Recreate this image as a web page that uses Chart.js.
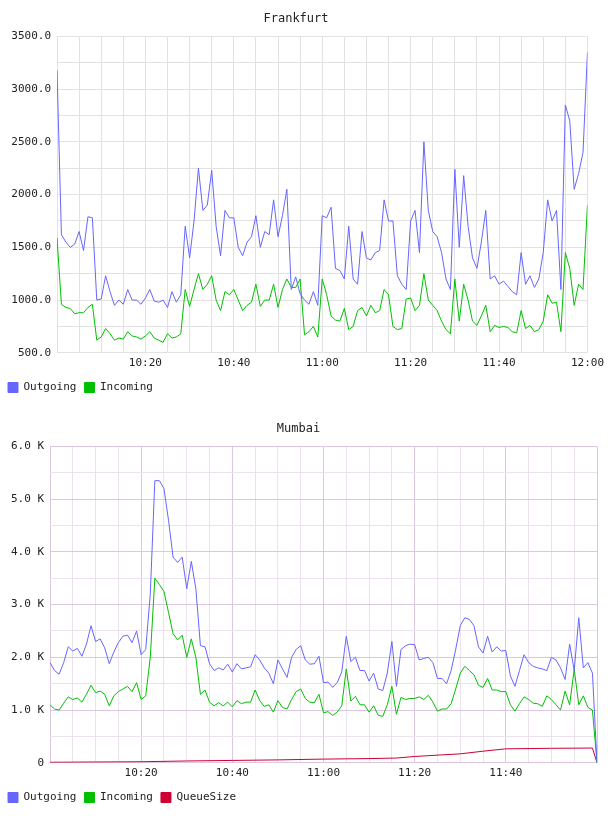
<!DOCTYPE html>
<html>
<head>
<meta charset="utf-8">
<script src="https://cdn.jsdelivr.net/npm/chart.js@4"></script>
<style>
  body { margin: 0; background: #fff; }
  .box { width: 608px; height: 405px; }
</style>
</head>
<body>
<div class="box"><canvas id="fra" width="608" height="405"></canvas></div>
<div class="box" style="margin-top:5px"><canvas id="bom" width="608" height="405"></canvas></div>
<script>
// minutes after 10:00, one sample per minute
const fraOutgoing = [3180,1620,1550,1500,1530,1650,1470,1790,1780,1000,1010,1230,1080,950,1000,960,1100,1000,1000,960,
  1020,1100,990,980,1000,930,1080,980,1050,1700,1400,1750,2250,1850,1900,2230,1700,1420,1850,1780,
  1780,1500,1420,1550,1600,1800,1500,1650,1620,1950,1600,1800,2050,1100,1220,1060,1000,960,1080,950,
  1800,1780,1880,1300,1280,1200,1700,1200,1150,1650,1400,1380,1450,1470,1950,1750,1750,1230,1150,1100,
  1750,1850,1450,2500,1850,1650,1600,1450,1200,1100,2240,1500,2180,1700,1400,1300,1550,1850,1200,1230,
  1150,1180,1130,1080,1050,1450,1150,1230,1120,1200,1450,1950,1750,1850,1100,2850,2700,2050,2200,2400,3350];
const fraIncoming = [1590,960,930,920,870,880,880,930,960,620,650,730,680,620,640,630,700,660,650,630,
  660,700,640,620,600,680,640,650,680,1100,940,1100,1250,1100,1150,1230,1000,900,1080,1050,
  1100,1000,900,950,980,1150,940,1000,1000,1150,930,1100,1200,1120,1120,1200,670,700,750,650,
  1200,1050,850,810,800,920,720,750,900,930,850,950,880,900,1100,1050,750,720,730,1010,
  1020,900,950,1250,1000,950,900,800,720,680,1200,800,1150,1000,800,760,850,950,700,760,
  740,750,740,700,690,900,730,760,700,720,800,1050,970,980,700,1450,1300,950,1150,1100,1900];

const bomOutgoing = [1.9,1.75,1.68,1.9,2.2,2.12,2.17,2.02,2.25,2.6,2.3,2.35,2.18,1.88,2.1,2.28,2.4,2.42,2.28,2.5,
  2.05,2.15,3.2,5.35,5.35,5.2,4.6,3.9,3.8,3.9,3.3,3.82,3.3,2.22,2.2,1.88,1.75,1.8,1.76,1.87,
  1.72,1.88,1.78,1.8,1.82,2.05,1.95,1.8,1.7,1.5,1.95,1.78,1.62,2.0,2.15,2.22,1.95,1.87,1.88,2.02,
  1.52,1.53,1.43,1.52,1.72,2.4,1.92,2.0,1.75,1.75,1.55,1.7,1.4,1.37,1.7,2.3,1.45,2.15,2.22,2.25,
  2.24,1.95,1.98,2.0,1.9,1.6,1.6,1.5,1.75,2.15,2.6,2.75,2.72,2.6,2.2,2.08,2.4,2.1,2.2,2.12,
  2.13,1.65,1.45,1.75,2.05,1.9,1.83,1.8,1.78,1.75,2.0,1.95,1.8,1.58,2.25,1.75,2.75,1.8,1.9,1.7,0];
const bomIncoming = [1.1,1.02,1.0,1.13,1.25,1.2,1.23,1.15,1.3,1.47,1.33,1.36,1.3,1.08,1.27,1.35,1.4,1.45,1.35,1.52,
  1.2,1.27,2.0,3.5,3.38,3.25,2.85,2.45,2.33,2.42,2.0,2.35,2.0,1.3,1.38,1.15,1.08,1.14,1.08,1.15,
  1.06,1.18,1.12,1.15,1.15,1.38,1.18,1.07,1.1,0.96,1.18,1.05,1.02,1.2,1.35,1.4,1.22,1.15,1.14,1.3,
  0.95,0.97,0.9,0.96,1.08,1.78,1.17,1.26,1.1,1.1,0.96,1.08,0.9,0.88,1.1,1.45,0.92,1.24,1.2,1.22,
  1.22,1.25,1.2,1.28,1.15,0.98,1.02,1.02,1.12,1.4,1.7,1.83,1.75,1.67,1.47,1.43,1.6,1.38,1.38,1.35,
  1.35,1.1,0.98,1.12,1.25,1.2,1.13,1.12,1.07,1.27,1.2,1.1,1.0,1.36,1.1,1.77,1.1,1.27,1.05,1.0,0];
const queueTimes = [0,10,20,30,40,50,60,70,76,80,90,95,100,110,119,120];
const queueSize = [0.01,0.015,0.02,0.035,0.045,0.055,0.07,0.08,0.09,0.12,0.17,0.22,0.265,0.275,0.28,0];

const FONT = { family: "'DejaVu Sans Mono', monospace", size: 11 };
Chart.defaults.font = FONT;
Chart.defaults.color = '#222';

function hhmm(v) {
  const h = 10 + Math.floor(v / 60), m = v % 60;
  return String(h).padStart(2, '0') + ':' + String(m).padStart(2, '0');
}
const pts = (arr, k) => arr.map((y, i) => ({ x: i, y: y * (k || 1) }));
const line = (label, data, color) => ({
  label, data, borderColor: color, backgroundColor: color,
  borderWidth: 1, pointRadius: 0, tension: 0, fill: false
});

function makeChart(id, title, datasets, y, gridFn, leftW, rightPad, showEnd) {
  return new Chart(document.getElementById(id), {
    type: 'line',
    data: { datasets },
    options: {
      responsive: false, animation: false,
      layout: { padding: { top: 0, right: rightPad, left: 0, bottom: 2 } },
      plugins: {
        title: { display: true, text: title, font: { ...FONT, size: 12, weight: 'normal' }, padding: { top: 12, bottom: 10 } },
        legend: { position: 'bottom', align: 'start',
          labels: { boxWidth: 10, boxHeight: 10, padding: 8, font: FONT } },
        tooltip: { enabled: false }
      },
      scales: {
        x: { type: 'linear', min: 0, max: 120,
          grid: { color: ctx => gridFn(ctx.tick.value % 20 === 0), drawTicks: false },
          border: { display: false },
          ticks: { stepSize: 5, autoSkip: false, maxRotation: 0, padding: 4,
            callback: v => (v % 20 === 0 && v > 0 && (v < 120 || showEnd)) ? hhmm(v) : '' } },
        y: { ...y,
          grid: { color: ctx => gridFn(ctx.tick.value % (y.ticks.stepSize * 2) === 0), drawTicks: false },
          border: { display: false },
          afterFit: s => { s.width = leftW; } }
      }
    }
  });
}

makeChart('fra', 'Frankfurt', [
  line('Outgoing', pts(fraOutgoing), '#6666ff'),
  line('Incoming', pts(fraIncoming), '#00c000')
], { min: 500, max: 3500,
     ticks: { stepSize: 250, padding: 6, callback: v => v % 500 === 0 ? v.toFixed(1) : '' } },
   () => '#e2e2e2', 57, 16, true);

makeChart('bom', 'Mumbai', [
  line('Outgoing', pts(bomOutgoing, 1000), '#6666ff'),
  line('Incoming', pts(bomIncoming, 1000), '#00c000'),
  line('QueueSize', queueTimes.map((t, i) => ({ x: t, y: queueSize[i] * 1000 })), '#cc0033')
], { min: 0, max: 6000,
     ticks: { stepSize: 500, padding: 6, callback: v => v % 1000 === 0 ? (v === 0 ? '0' : (v / 1000).toFixed(1) + ' K') : '' } },
   major => major ? '#ddc6e2' : '#ebe2ee', 50, 11, false);
</script>
</body>
</html>
